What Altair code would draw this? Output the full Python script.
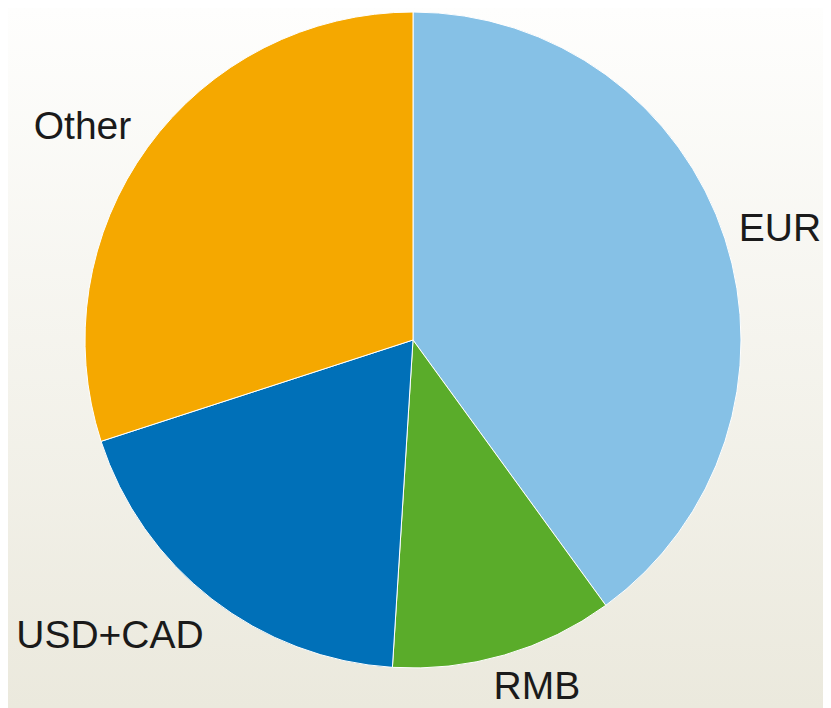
import altair as alt
import pandas as pd

categories = ["EUR", "RMB", "USD+CAD", "Other"]
shares = [40, 11, 19, 30]
colors = ["#86c1e6", "#5aac2a", "#0070b8", "#f5a800"]

total = sum(shares)
df = pd.DataFrame({"category": categories, "share": shares, "order": list(range(len(categories)))})

W, H = 815, 700
CX, CY = 405, 332

bg = alt.Chart(pd.DataFrame({"a": [0]})).mark_rect(
    fill=alt.Gradient(
        gradient="linear",
        stops=[alt.GradientStop(color="#fefefd", offset=0), alt.GradientStop(color="#ebe9dd", offset=1)],
        x1=0, x2=0, y1=0, y2=1,
    )
).encode(x=alt.value(0), x2=alt.value(W), y=alt.value(0), y2=alt.value(H))

pie = alt.Chart(df).mark_arc(outerRadius=328, stroke="white", strokeWidth=1).encode(
    theta=alt.Theta("share:Q", stack=True, scale=alt.Scale(domain=[0, total])),
    color=alt.Color("category:N", scale=alt.Scale(domain=categories, range=colors), legend=None),
    order=alt.Order("order:Q"),
    x=alt.value(CX),
    y=alt.value(CY),
)

base = alt.Chart(df).transform_window(
    cum="sum(share)", sort=[alt.SortField("order")]
).transform_calculate(mid="datum.cum - datum.share / 2")

offsets = {"EUR": (-4, 22), "RMB": (15, -16), "USD+CAD": (-64, 0), "Other": (-15, 28)}

labels = []
for cat in categories:
    ddx, ddy = offsets[cat]
    labels.append(
        base.transform_filter(alt.datum.category == cat).mark_text(
            radius=390, dx=ddx, dy=ddy, align="center", baseline="alphabetic",
            fontSize=39, font="Liberation Sans", color="#1a1a1a",
        ).encode(
            theta=alt.Theta("mid:Q", scale=alt.Scale(domain=[0, total])),
            text="category:N",
            x=alt.value(CX),
            y=alt.value(CY),
        )
    )

chart = alt.layer(bg, pie, *labels).properties(
    width=W, height=H, autosize="none", padding=0
).configure_view(stroke=None).configure(background="white")

chart.save("out.html", embed_options={"renderer": "svg", "actions": False})
